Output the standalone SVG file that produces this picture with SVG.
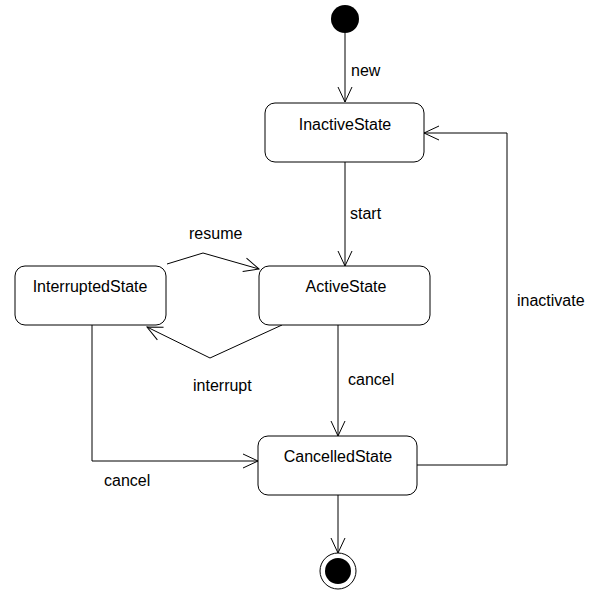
<svg xmlns="http://www.w3.org/2000/svg" width="596" height="590" viewBox="0 0 596 590">
<style>
.st{fill:#fff;stroke:#000;stroke-width:1}
.t{font-family:"Liberation Sans",Arial,sans-serif;font-size:16px;fill:#000}
.c{text-anchor:middle}
.ln{fill:none;stroke:#000;stroke-width:1}
</style>
<defs>
<marker id="arr" markerUnits="userSpaceOnUse" markerWidth="20" markerHeight="20" viewBox="-16 -10 20 20" refX="0" refY="0" orient="auto">
<path d="M-15,-7 L0,0 L-15,7" fill="none" stroke="#000" stroke-width="1"/>
</marker>
</defs>
<rect width="596" height="590" fill="#fff"/>
<g id="connectors">
<path class="ln" d="M345,33 L345,102" marker-end="url(#arr)"/>
<path class="ln" d="M345,162 L345,266" marker-end="url(#arr)"/>
<path class="ln" d="M167,264 L203,253 L259,269" marker-end="url(#arr)"/>
<path class="ln" d="M282,325 L210,358 L147,327" marker-end="url(#arr)"/>
<path class="ln" d="M338,325 L338,436" marker-end="url(#arr)"/>
<path class="ln" d="M92,325 L92,461 L258,461" marker-end="url(#arr)"/>
<path class="ln" d="M417,465 L507,465 L507,133 L424,133" marker-end="url(#arr)"/>
<path class="ln" d="M338,495 L338,553" marker-end="url(#arr)"/>
<text class="t" x="351" y="76">new</text>
<text class="t" x="350" y="219">start</text>
<text class="t" x="189" y="239">resume</text>
<text class="t" x="193" y="391">interrupt</text>
<text class="t" x="348" y="385">cancel</text>
<text class="t" x="104" y="486">cancel</text>
<text class="t" x="517" y="306">inactivate</text>
</g>
<g id="initial"><circle cx="345" cy="19" r="14" fill="#000"/></g>
<g id="InactiveState"><rect class="st" x="265" y="103" width="159" height="59" rx="10"/><text class="t c" x="345" y="130">InactiveState</text></g>
<g id="ActiveState"><rect class="st" x="259" y="266" width="171" height="59" rx="10"/><text class="t c" x="346" y="292">ActiveState</text></g>
<g id="InterruptedState"><rect class="st" x="15" y="266" width="151" height="59" rx="10"/><text class="t c" x="90" y="292">InterruptedState</text></g>
<g id="CancelledState"><rect class="st" x="258" y="436" width="159" height="59" rx="10"/><text class="t c" x="338" y="462">CancelledState</text></g>
<g id="final"><circle cx="338" cy="571" r="18" fill="#fff" stroke="#000" stroke-width="1"/><circle cx="338" cy="571" r="13" fill="#000"/></g>
</svg>
